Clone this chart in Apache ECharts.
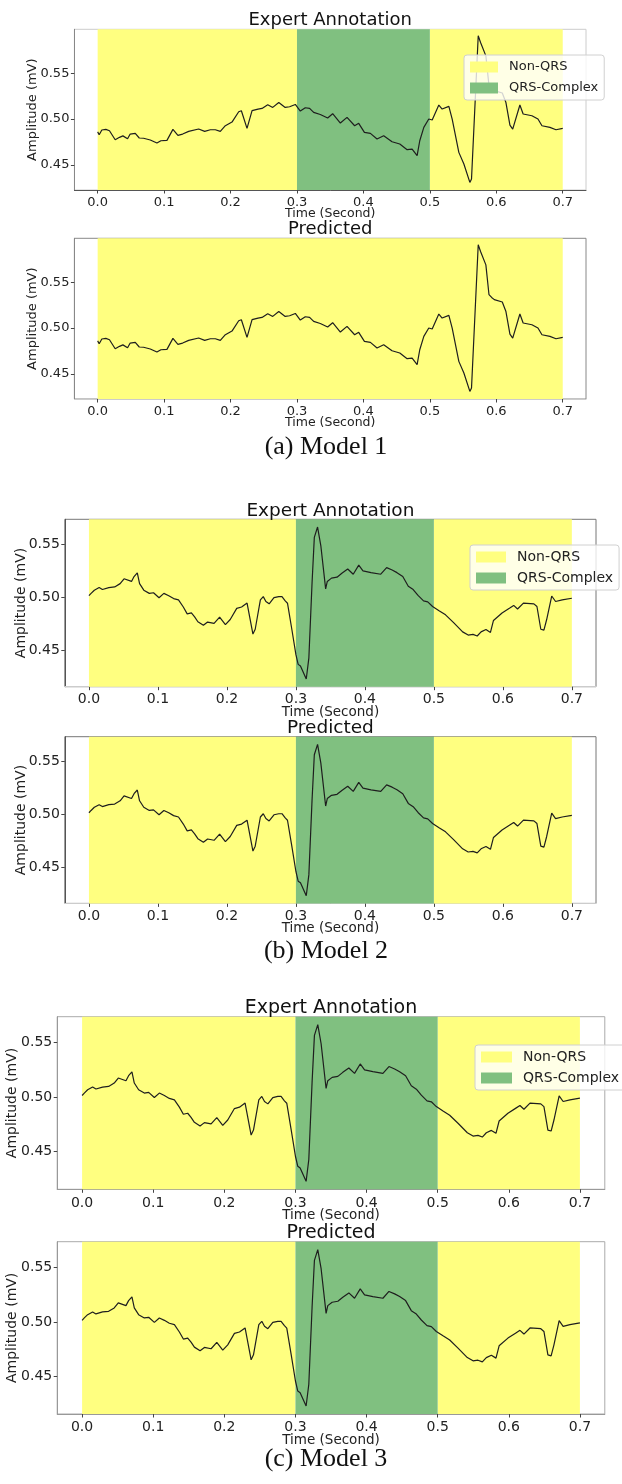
<!DOCTYPE html>
<html>
<head>
<meta charset="utf-8">
<script src="https://cdn.jsdelivr.net/npm/echarts@6/dist/echarts.min.js"></script>
<style>
  html, body { margin: 0; padding: 0; background: #fff; }
  #main { width: 622px; height: 1484px; }
</style>
</head>
<body>
<div id="main"></div>
<script>
// tick labels
var xTicks = [0, 0.1, 0.2, 0.3, 0.4, 0.5, 0.6, 0.7];
var yTicks = [0.45, 0.50, 0.55];

// ECG trace used in model 1 (expert + predicted)
var sig1Time = [0, 0.0023, 0.0063, 0.0123, 0.0178, 0.0264, 0.0329, 0.038, 0.045, 0.049,
    0.0566, 0.0626, 0.0691, 0.0792, 0.0892, 0.0952, 0.1043, 0.1133, 0.1208, 0.1279,
    0.137, 0.152, 0.1611, 0.1696, 0.1771, 0.1846, 0.1922, 0.2022, 0.2123, 0.2163,
    0.2248, 0.2324, 0.2414, 0.2474, 0.256, 0.2635, 0.2726, 0.2823, 0.2889, 0.2975,
    0.305, 0.3125, 0.319, 0.3251, 0.3351, 0.3462, 0.3537, 0.3653, 0.3753, 0.3868,
    0.3929, 0.4015, 0.4105, 0.4205, 0.4305, 0.4431, 0.4547, 0.4658, 0.4733, 0.4808,
    0.4848, 0.4909, 0.4984, 0.5035, 0.5135, 0.5185, 0.5286, 0.5336, 0.5436, 0.5512,
    0.5602, 0.5627, 0.5728, 0.5763, 0.579, 0.5843, 0.589, 0.593, 0.597, 0.609,
    0.6145, 0.6205, 0.6247, 0.6355, 0.6404, 0.6536, 0.6627, 0.6687, 0.6807, 0.6898, 0.7];
var sig1Amp = [0.486, 0.4829, 0.488, 0.4887, 0.4872, 0.4774, 0.480, 0.4816, 0.4785, 0.4836,
    0.4843, 0.4793, 0.479, 0.4771, 0.4738, 0.4763, 0.4767, 0.4887, 0.4821, 0.4836,
    0.4865, 0.4891, 0.4865, 0.4883, 0.4883, 0.4865, 0.4927, 0.4967, 0.508, 0.5091,
    0.4898, 0.5091, 0.5109, 0.5116, 0.5156, 0.5127, 0.5181, 0.5127, 0.5134, 0.5159,
    0.5087, 0.5123, 0.5116, 0.5072, 0.505, 0.5011, 0.5058, 0.4956, 0.5018, 0.4927,
    0.4953, 0.4854, 0.4843, 0.4782, 0.4818, 0.4752, 0.4727, 0.4665, 0.4672, 0.460,
    0.4763, 0.4909, 0.500, 0.4989, 0.5153, 0.5109, 0.5138, 0.500, 0.4636, 0.4509,
    0.4308, 0.4345, 0.5909, 0.5836, 0.585, 0.569, 0.5364, 0.5334, 0.531, 0.5284,
    0.518, 0.4934, 0.489, 0.5153, 0.5055, 0.5036, 0.500, 0.4927, 0.4909, 0.4883, 0.4898];

// ECG trace used in models 2 and 3
var sig2Time = [0, 0.0031, 0.0078, 0.0148, 0.0195, 0.0288, 0.0373, 0.0452, 0.0509, 0.0617,
    0.0654, 0.0701, 0.0734, 0.0795, 0.0875, 0.0936, 0.1016, 0.1086, 0.1157, 0.1227,
    0.1298, 0.1368, 0.1424, 0.1485, 0.1532, 0.1579, 0.1659, 0.172, 0.1814, 0.1894,
    0.1978, 0.2048, 0.2142, 0.2213, 0.2292, 0.2377, 0.241, 0.2485, 0.2527, 0.2565,
    0.2612, 0.2682, 0.2752, 0.2798, 0.2845, 0.2878, 0.2939, 0.300, 0.3033, 0.3066,
    0.315, 0.3188, 0.3234, 0.3267, 0.3314, 0.3361, 0.3431, 0.3455, 0.3516, 0.3596,
    0.3666, 0.3751, 0.3831, 0.3911, 0.3972, 0.4089, 0.423, 0.4315, 0.4395, 0.4465,
    0.4549, 0.4629, 0.47, 0.477, 0.485, 0.4911, 0.4981, 0.5075, 0.5169, 0.5286,
    0.5417, 0.5497, 0.5567, 0.5628, 0.5684, 0.5755, 0.582, 0.5864, 0.5988, 0.61,
    0.6157, 0.6213, 0.6298, 0.645, 0.6494, 0.655, 0.6595, 0.6635, 0.6708, 0.6764, 0.686, 0.7];
var sig2Amp = [0.5015, 0.5037, 0.5067, 0.5092, 0.5074, 0.5092, 0.5098, 0.5129, 0.5175, 0.515,
    0.5196, 0.5231, 0.5129, 0.5067, 0.5037, 0.5043, 0.4996, 0.5037, 0.5015, 0.4988,
    0.4975, 0.4908, 0.4843, 0.4852, 0.4815, 0.4769, 0.4735, 0.4766, 0.4754, 0.4812,
    0.4741, 0.479, 0.4895, 0.4908, 0.4945, 0.4652, 0.4698, 0.4975, 0.5006, 0.496,
    0.4938, 0.4996, 0.5006, 0.5006, 0.4966, 0.4944, 0.4705, 0.4458, 0.4366, 0.4351,
    0.4228, 0.4428, 0.5135, 0.5566, 0.5664, 0.5489, 0.5079, 0.515, 0.5181, 0.519,
    0.5227, 0.5267, 0.5218, 0.5304, 0.5249, 0.5233, 0.5218, 0.528, 0.5258, 0.5233,
    0.5196, 0.5104, 0.5073, 0.5018, 0.4966, 0.4957, 0.4913, 0.4873, 0.4834, 0.476,
    0.4673, 0.4643, 0.4649, 0.4634, 0.4673, 0.4695, 0.4668, 0.4781, 0.4852, 0.4899,
    0.4923, 0.4889, 0.4945, 0.4938, 0.4913, 0.4698, 0.4689, 0.479, 0.5012, 0.496, 0.4975, 0.4991];

// label segments [start, end, class]
var expertRegions = [[0, 0.3, 'Non-QRS'], [0.3, 0.5, 'QRS-Complex'], [0.5, 0.7, 'Non-QRS']];
var model1Pred = [[0, 0.7, 'Non-QRS']];
var model2Pred = [[0, 0.3, 'Non-QRS'], [0.3, 0.5, 'QRS-Complex'], [0.5, 0.7, 'Non-QRS']];
var model3Pred = [[0, 0.3, 'Non-QRS'], [0.3, 0.5, 'QRS-Complex'], [0.5, 0.7, 'Non-QRS']];
var classNames = ['Non-QRS', 'QRS-Complex'];
var captions = ['(a) Model 1', '(b) Model 2', '(c) Model 3'];

var xRange = [-0.035, 0.735];
var yRange1 = [0.4225, 0.598];
var yRange2 = [0.4155, 0.5737];

var classColor = { 'Non-QRS': '#ffff80', 'QRS-Complex': '#80c080' };

function pairs(t, v) {
    var out = [];
    for (var i = 0; i < t.length; i++) out.push([t[i], v[i]]);
    return out;
}
var trace1 = pairs(sig1Time, sig1Amp);
var trace2 = pairs(sig2Time, sig2Amp);

// layout of the six axes
var panels = [
    { title: 'Expert Annotation', left: 74.4, top: 29.3, width: 511.6, height: 160.7, trace: trace1, yr: yRange1, regions: expertRegions, fs: 13, tfs: 18, yGap: 35.5, xGap: 17.5, xMargin: 6.5, legend: { left: 464, top: 55, w: 28 }, spine: ['#888', '#555', '#ccc'] },
    { title: 'Predicted', left: 74.4, top: 238.3, width: 511.6, height: 160.7, trace: trace1, yr: yRange1, regions: model1Pred, fs: 13, tfs: 18, yGap: 35.5, xGap: 17.5, xMargin: 6.5, spine: ['#888', '#ccc', '#888'] },
    { title: 'Expert Annotation', left: 64.8, top: 519.3, width: 531.2, height: 167.4, trace: trace2, yr: yRange2, regions: expertRegions, fs: 14, tfs: 18.5, yGap: 36, xGap: 18.5, xMargin: 6, legend: { left: 470, top: 545, w: 30 }, spine: ['#555', '#ccc', '#777'] },
    { title: 'Predicted', left: 64.8, top: 736.7, width: 531.2, height: 166.7, trace: trace2, yr: yRange2, regions: model2Pred, fs: 14, tfs: 18.5, yGap: 36, xGap: 18.5, xMargin: 6, spine: ['#555', '#ccc', '#777'] },
    { title: 'Expert Annotation', left: 57.2, top: 1016.7, width: 547.6, height: 172.6, trace: trace2, yr: yRange2, regions: expertRegions, fs: 14, tfs: 19, yGap: 38, xGap: 19.5, xMargin: 7.5, legend: { left: 475, top: 1045, w: 31 }, spine: ['#999', '#999', '#aaa'] },
    { title: 'Predicted', left: 57.2, top: 1241.7, width: 547.6, height: 172.3, trace: trace2, yr: yRange2, regions: model3Pred, fs: 14, tfs: 19, yGap: 38, xGap: 19.5, xMargin: 6, spine: ['#999', '#999', '#aaa'] }
];
var captionY = [448, 952, 1460];

var font = 'DejaVu Sans';
var grid = [], xAxis = [], yAxis = [], series = [], title = [], legend = [];

function renderRegion(params, api) {
    var a = api.coord([api.value(0), 0.5]);
    var b = api.coord([api.value(1), 0.5]);
    var cs = params.coordSys;
    return {
        type: 'rect',
        shape: { x: a[0], y: cs.y, width: b[0] - a[0], height: cs.height },
        style: { fill: api.visual('color') }
    };
}

panels.forEach(function (p, i) {
    grid.push({ left: p.left, top: p.top, width: p.width, height: p.height, outerBoundsMode: 'none',
        show: true, borderColor: p.spine[2], borderWidth: 1, backgroundColor: '#fff' });
    xAxis.push({
        type: 'value', gridIndex: i, min: xRange[0], max: xRange[1],
        name: 'Time (Second)', nameLocation: 'middle', nameGap: p.xGap, nameMoveOverlap: false,
        nameTextStyle: { fontFamily: font, fontSize: p.fs - 0.5, color: '#222' },
        axisLine: { show: true, onZero: false, lineStyle: { color: p.spine[1], width: 1 } },
        axisTick: { show: true, customValues: xTicks, length: 3.5, lineStyle: { color: '#444' } },
        axisLabel: { customValues: xTicks, margin: p.xMargin, fontFamily: font, fontSize: p.fs, color: '#222',
            formatter: function (v) { return v.toFixed(1); } },
        splitLine: { show: false }
    });
    yAxis.push({
        type: 'value', gridIndex: i, min: p.yr[0], max: p.yr[1],
        name: 'Amplitude (mV)', nameLocation: 'middle', nameGap: p.yGap, nameRotate: 90, nameMoveOverlap: false,
        nameTextStyle: { fontFamily: font, fontSize: p.fs, color: '#222' },
        axisLine: { show: true, onZero: false, lineStyle: { color: p.spine[0], width: 1 } },
        axisTick: { show: true, customValues: yTicks, length: 3.5, lineStyle: { color: '#444' } },
        axisLabel: { customValues: yTicks, margin: 5, fontFamily: font, fontSize: p.fs, color: '#222',
            formatter: function (v) { return v.toFixed(2); } },
        splitLine: { show: false }
    });
    classNames.forEach(function (name) {
        var segs = p.regions.filter(function (r) { return r[2] === name; })
            .map(function (r) { return [r[0], r[1]]; });
        if (!segs.length) return;
        series.push({
            type: 'custom', name: name, xAxisIndex: i, yAxisIndex: i,
            itemStyle: { color: classColor[name] }, silent: true, z: 1,
            renderItem: renderRegion, data: segs
        });
    });
    series.push({
        type: 'line', name: 'ecg', xAxisIndex: i, yAxisIndex: i, data: p.trace,
        showSymbol: false, silent: true, z: 3,
        lineStyle: { color: '#1e1e1e', width: 1.2 }
    });
    title.push({
        text: p.title, left: p.left + p.width / 2, top: p.top - 7 - p.tfs * 0.6,
        textAlign: 'center', padding: 0,
        textStyle: { fontFamily: font, fontSize: p.tfs, fontWeight: 'normal', color: '#111' }
    });
    if (p.legend) {
        legend.push({
            data: classNames, orient: 'vertical', left: p.legend.left, top: p.legend.top,
            icon: 'rect', itemWidth: p.legend.w, itemHeight: 11, itemGap: 7,
            padding: [5, 6, 5, 6], backgroundColor: 'rgba(255,255,255,0.8)',
            borderColor: '#d0d0d0', borderWidth: 1, borderRadius: 3,
            selectedMode: false,
            textStyle: { fontFamily: font, fontSize: p.fs, color: '#222', lineHeight: 14, padding: [0, 0, 0, 6] }
        });
    }
});

captions.forEach(function (c, k) {
    title.push({
        text: c, left: 326, top: captionY[k] - 14, textAlign: 'center', padding: 0,
        textStyle: { fontFamily: 'Liberation Serif', fontSize: 26, fontWeight: 'normal', color: '#111' }
    });
});

var myChart = echarts.init(document.getElementById('main'));
myChart.setOption({
    animation: false,
    title: title,
    legend: legend,
    grid: grid,
    xAxis: xAxis,
    yAxis: yAxis,
    series: series
});
</script>
</body>
</html>
